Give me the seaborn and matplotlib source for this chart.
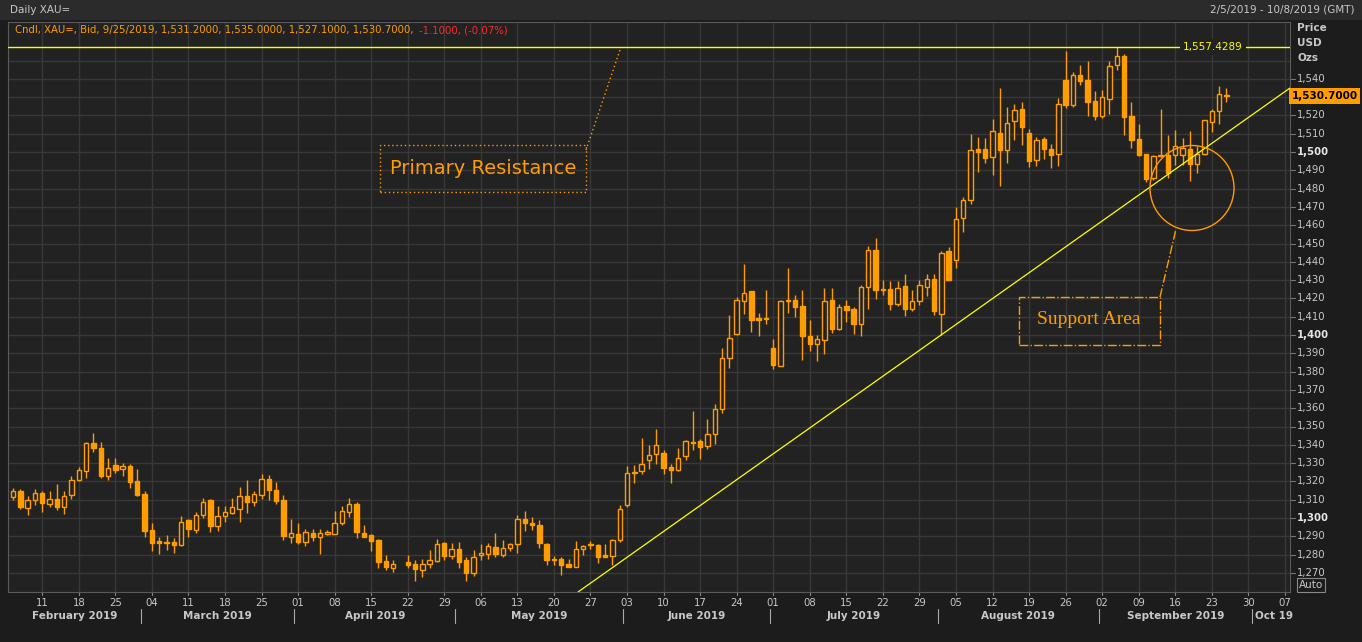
import numpy as np
import pandas as pd
import matplotlib
matplotlib.use("Agg")
import matplotlib.pyplot as plt
import matplotlib.transforms as mtransforms
from matplotlib.patches import Rectangle, Ellipse
import seaborn as sns

# ---------------- data ----------------
start_date = "2019-02-05"
end_date = "2019-09-25"
holiday_slots = ["2019-04-19"]  # no candle (Good Friday)

opens = [1311.5,1315,1305.6,1310,1313.8,1307.8,1310.5,1306,1312.7,1321,
         1325.8,1341,1338.4,1323,1328.7,1326.7,1328.5,1320,1313,1293.3,
         1287.3,1287,1286.7,1285.5,1298.7,1293.6,1301.8,1309.6,1295.5,1301.3,
         1302.9,1305,1312.2,1308.9,1312.7,1321.5,1315.5,1309.6,1289.6,1291,1287,
         1292,1289.6,1291.5,1291.5,1297,1303.3,1307.8,1292,1290.5,1287.8,1276.4,1272.7,
         np.nan,
         1276,1275,1271.8,1275,1276.5,1286.4,1279.3,1283.3,1277,1270,
         1280,1280.5,1284.2,1280,1283.8,1286,1299.6,1297.3,1296.4,1286,
         1277.6,1277.8,1274.7,1273.3,1283.3,1286,1285,1279.6,1279.3,1287.8,
         1307.3,1324.8,1325.5,1331.5,1335.2,1335.7,1327.9,1326.4,1333.7,1341,
         1341.9,1339.3,1346,1359.4,1387.6,1400.5,1418.6,1423.9,1409.5,1408.9,
         1392.7,1383.1,1418.4,1419.3,1415.7,1399.6,1395.3,1397.5,1419,1403.3,
         1415.7,1414.4,1406.2,1426.2,1446.3,1424.8,1425,1417,1426.6,1414.2,
         1418.6,1426.2,1430.8,1411.7,
         1445.7,1440.8,1464.1,1474,1501.5,1501.5,1497.3,1510.6,1501.3,1516.8,
         1523.7,1510.6,1495.4,1507.3,1501.8,1499.1,1539.2,1525.9,1541.9,1539.2,
         1527.7,1519.7,1529.1,1547.4,1552.5,1519.5,1506.9,1498.7,1486,1497.6,
         1498.5,1498.5,1498.5,1501.8,1493.6,1499.1,1516.4,1522.2,1531.2]
highs = [1316.5,1315.6,1311.8,1315.6,1315,1315,1318.4,1314.5,1322.7,1327.8,
         1341.8,1346.7,1341.8,1333,1332.7,1330,1329.6,1327,1315,1297,
         1289.6,1290.5,1289,1301,1299.6,1303.3,1311,1310.2,1306.4,1306.4,
         1310.7,1316.7,1320.5,1315,1324,1323.3,1319.5,1312.4,1299.6,1297,1294,
         1294.2,1294.2,1293.3,1303.6,1306.5,1311,1309,1296,1291.5,1288.7,1279.6,1276.9,
         np.nan,
         1279.6,1276.9,1277.8,1282.4,1288.7,1286.9,1286.4,1287,1278.7,1282.4,
         1285.6,1286.4,1291.8,1288.2,1286.4,1301.5,1303.6,1300.5,1298.7,1286.5,
         1279,1278.7,1277.8,1287.3,1285,1287.3,1286,1285.6,1288.7,1307,
         1328.2,1329,1343.9,1339.7,1348.5,1337.3,1329.7,1338.4,1342.8,1358.3,
         1343.4,1354.3,1362.1,1393,1410.7,1421,1438.6,1423.9,1412,1424.4,
         1397.6,1419.3,1436.6,1421.7,1424.4,1408,1399.8,1425.9,1425.9,1416.8,
         1419.3,1415.3,1427.1,1448.5,1453,1429.9,1429.3,1429.3,1433.5,1424.4,
         1429.9,1433.5,1433.5,1445.9,
         1448,1470,1475.4,1510,1508.2,1507.6,1517.9,1535,1524.6,1526.4,
         1527.3,1512.8,1508.2,1508.2,1504.6,1529.7,1555,1543.7,1547.4,1550,
         1533.2,1533.7,1549.7,1557.4,1553.4,1527.3,1515.5,1499.1,1498.2,1523.7,
         1509.1,1512.2,1507.8,1511.5,1503.1,1517.3,1523.3,1535.9,1535]
lows = [1309.6,1305,1301.6,1307,1303.3,1306,1304.2,1302.4,1310.2,1320,
        1321.8,1336,1321.8,1320.5,1324.5,1323,1316.4,1311.8,1289.6,1282,
        1280.5,1282.7,1281,1284.7,1289.6,1291.8,1300,1292.4,1293,1297.8,
        1302,1297.8,1302.7,1306.4,1310.5,1310,1307.8,1288,1286.4,1285.6,1284.7,
        1287.5,1280.5,1290.5,1291,1296,1300.5,1289,1289.6,1282,1272.7,1271.5,1270.5,
        np.nan,
        1272.9,1265.6,1267.8,1272.7,1276,1277.3,1277.5,1272.9,1265.6,1268.4,
        1277,1277.5,1278.7,1278.7,1281.8,1281,1293,1293.3,1283.6,1274.2,
        1274.2,1269,1273,1273,1280,1283.3,1275.6,1278.7,1274.2,1287,
        1306,1319.3,1323.9,1326.6,1329.7,1323.9,1319.3,1325.7,1331.5,1337,
        1332,1337.9,1340.3,1357.4,1382,1399.8,1411.7,1401.6,1399.3,1406.2,
        1381.6,1383.1,1412,1409.8,1386.2,1391.3,1385.8,1389.8,1401,1402.9,
        1407,1400.4,1399.3,1414,1419.5,1421.7,1413.8,1415.8,1410.2,1413,
        1416.2,1421.1,1410.7,1399.8,
        1429.9,1436.6,1456.3,1471.8,1489,1494.2,1487.6,1481.2,1494.2,1506.4,
        1504,1491.8,1492.2,1496,1491.4,1492.3,1524,1524.6,1536.4,1519.5,
        1517.3,1518.8,1521,1544.6,1509.1,1502.2,1497.6,1483.6,1484.5,1497.3,
        1486,1492.7,1492.7,1484.2,1488.5,1498.5,1510.9,1515.5,1527.1]
closes = [1314.7,1306,1310,1313.8,1308.2,1310.5,1306,1312,1321,1326,
          1341,1338,1323,1327.5,1326.5,1328.5,1319.6,1312.5,1293,1286.4,
          1286.4,1286.4,1285.3,1298,1294,1301.8,1309,1295.6,1301,1303.5,
          1306.2,1312.2,1308.7,1313.3,1321.5,1315.5,1309.3,1290,1292,1287,1292.5,
          1289.6,1292,1292.4,1297,1304,1307.8,1292.4,1289.6,1287.5,1276,1273,1275,
          np.nan,
          1274.5,1272,1275,1276.9,1286,1279,1283.3,1276,1270,1278.7,
          1281,1284.5,1280.5,1283.8,1285.6,1299.6,1297,1296.4,1286.4,1277.3,
          1277.3,1274.2,1273.3,1283,1284.5,1285,1278.7,1278.7,1288,1305,
          1324.8,1324.8,1329.7,1334.6,1340,1327.3,1326.4,1332.8,1341.9,1341.3,
          1338.8,1346,1359.7,1387.6,1398.5,1419.3,1423,1408,1408.4,1408.9,
          1383.4,1418.4,1419.3,1415.3,1399.3,1395.3,1398,1418.6,1403.3,1415.3,
          1413.8,1406.2,1426.2,1446.3,1424.4,1424.8,1417,1425.9,1414,1418.4,
          1427.1,1430.8,1413,1444.8,
          1430.2,1463.6,1474,1501,1500,1496.9,1511.3,1501.3,1516,1523.1,
          1513.7,1495.1,1506.7,1501.8,1498.2,1526.4,1525.9,1542.3,1538.8,1527.3,
          1519.7,1530,1546.8,1552.5,1519.1,1506.7,1498.5,1485.4,1497.6,1498.5,
          1488.7,1503.1,1502.2,1493.6,1499.1,1517.3,1522.2,1531.9,1530.7]

resistance = 1557.4289
last_price = 1530.7
month_names = ["February 2019", "March 2019", "April 2019", "May 2019", "June 2019",
               "July 2019", "August 2019", "September 2019", "Oct 19"]

dates = pd.bdate_range(start_date, end_date)
df = pd.DataFrame({"date": dates, "open": opens, "high": highs, "low": lows, "close": closes})
df["slot"] = np.arange(len(df))

# ---------------- style ----------------
BG = "#1c1c1c"
PLOT_BG = "#222222"
GRID = "#383838"
ORANGE = "#ff9c00"
TXT = "#c8c8c8"
sns.set_style("dark", {"axes.facecolor": PLOT_BG, "figure.facecolor": BG,
                       "grid.color": GRID, "axes.edgecolor": "#5a5a5a"})
plt.rcParams["font.family"] = ["DejaVu Sans"]

W, H = 1362, 642
fig = plt.figure(figsize=(W / 100, H / 100), dpi=100)
L, R, T, B = 8, 1290, 22, 592
ax = fig.add_axes([L / W, 1 - B / H, (R - L) / W, (B - T) / H])

def xd(px):  # pixel -> slot
    return (px - 13) / 7.31
def yd(py):  # pixel -> price
    return 1300 + (518 - py) / 1.83

ax.set_xlim(xd(L), xd(R))
ax.set_ylim(yd(B), yd(T))

# grid
for p in range(1270, 1551, 10):
    ax.axhline(p, color=GRID, lw=1, zorder=0)
mondays = pd.date_range("2019-02-11", "2019-10-07", freq="W-MON")
mon_slots = [np.busday_count(start_date, d.strftime("%Y-%m-%d")) for d in mondays]
for s in mon_slots:
    ax.axvline(s, color=GRID, lw=1, zorder=0)

# candles
ok = df.dropna()
up = ok[ok.close >= ok.open]
dn = ok[ok.close < ok.open]
ax.vlines(ok.slot, ok.low, ok.high, color=ORANGE, lw=1, zorder=2)
bw = 0.6
ax.bar(up.slot, np.maximum(up.close - up.open, 0.4), bottom=up.open, width=bw,
       facecolor=PLOT_BG, edgecolor=ORANGE, lw=1, zorder=3)
ax.bar(dn.slot, np.maximum(dn.open - dn.close, 0.4), bottom=dn.close, width=bw,
       facecolor=ORANGE, edgecolor=ORANGE, lw=1, zorder=3)

# resistance + trend line
ax.axhline(resistance, color="#ffff00", lw=1, zorder=4)
ax.text(xd(1213), resistance, "1,557.4289", color="#ffff00", fontsize=7.5,
        ha="center", va="center", zorder=5,
        bbox=dict(facecolor=PLOT_BG, edgecolor="none", pad=2))
ax.plot([xd(578), xd(1290)], [yd(592), yd(88)], color="#ffff00", lw=0.9, zorder=4)

# annotations
ax.add_patch(Rectangle((xd(380), yd(192)), xd(586) - xd(380), yd(145) - yd(192),
                       fill=False, ec=ORANGE, lw=1, ls=(0, (1, 2)), zorder=5))
ax.text(xd(483), yd(168), "Primary Resistance", color=ORANGE, fontsize=14,
        ha="center", va="center", zorder=5)
ax.plot([xd(586), xd(621)], [yd(150), yd(47)], color=ORANGE, lw=1, ls=(0, (1, 2)))
ax.add_patch(Rectangle((xd(1019), yd(345)), xd(1160) - xd(1019), yd(297) - yd(345),
                       fill=False, ec=ORANGE, lw=1, ls="-.", zorder=5))
ax.text(xd(1089), yd(320), "Support Area", color=ORANGE, fontsize=14,
        family=["Liberation Serif", "DejaVu Serif"], ha="center", va="center", zorder=5)
ax.plot([xd(1160), xd(1176)], [yd(297), yd(229)], color=ORANGE, lw=1, ls="-.")
ax.add_patch(Ellipse((xd(1192), yd(188)), 84 / 7.31, 85 / 1.83, fill=False,
                     ec=ORANGE, lw=1, zorder=5))

ax.text(xd(15), yd(30), "Cndl, XAU=, Bid, 9/25/2019, 1,531.2000, 1,535.0000, 1,527.1000, 1,530.7000,",
        color=ORANGE, fontsize=7.3, va="center", ha="left")
ax.text(xd(419), yd(30), "-1.1000, (-0.07%)", color="#ff2a2a", fontsize=7.3, va="center", ha="left")

# axes cosmetics
ax.set_xticks([]); ax.set_yticks([])
ax.grid(False)
for sp in ax.spines.values():
    sp.set_color("#5a5a5a")

# right price labels
ry = mtransforms.blended_transform_factory(ax.transAxes, ax.transData)
for p in range(1270, 1541, 10):
    bold = p % 100 == 0
    ax.plot([1.0, 1.004], [p, p], transform=ry, color="#777777", lw=0.8, clip_on=False)
    if p == 1530:
        continue
    ax.text(1.0055, p, f"{p:,}", transform=ry, color="#e6e6e6" if bold else TXT,
            fontsize=7.3, fontweight="bold" if bold else "normal", va="center", ha="left",
            clip_on=False)
for txt, py in [("Price", 28), ("USD", 43), ("Ozs", 58)]:
    fig.text(1297 / W, 1 - py / H, txt, color=TXT, fontsize=7.5, fontweight="bold", va="center")
ax.text(1.0012, last_price, "1,530.7000", transform=ry, color="black", fontsize=7.5,
        fontweight="bold", va="center", ha="left", clip_on=False,
        bbox=dict(facecolor=ORANGE, edgecolor="none", pad=2))
fig.text(1299 / W, 1 - 585 / H, "Auto", color=TXT, fontsize=7.5, va="center",
         bbox=dict(facecolor=BG, edgecolor="#888888", pad=1.2, lw=0.8))

# bottom day labels
bx = mtransforms.blended_transform_factory(ax.transData, ax.transAxes)
yday = -(603 - B) / (B - T)
ymon = -(616 - B) / (B - T)
for d, s in zip(mondays, mon_slots):
    ax.text(s, yday, d.strftime("%d"), transform=bx, color=TXT, fontsize=7.3,
            ha="center", va="center", clip_on=False)
    ax.plot([s, s], [0, -0.006], transform=bx, color="#888888", lw=0.8, clip_on=False)

# month labels + separators
month_starts = pd.date_range("2019-03-01", "2019-10-01", freq="MS")
sep_slots = [np.busday_count(start_date, d.strftime("%Y-%m-%d")) - 0.5 for d in month_starts]
edges = [xd(L)] + sep_slots + [xd(R)]
for i, name in enumerate(month_names):
    c = (edges[i] + edges[i + 1]) / 2
    if name == "Oct 19":
        c = edges[i] + 3
    ax.text(c, ymon, name, transform=bx, color=TXT, fontsize=7.5, fontweight="bold",
            ha="center", va="center", clip_on=False)
for s in sep_slots:
    ax.plot([s, s], [ymon - 0.012, ymon + 0.012], transform=bx, color="#aaaaaa", lw=0.8,
            clip_on=False)

# header
fig.patches.append(Rectangle((0, 1 - 20 / H), 1, 20 / H, transform=fig.transFigure,
                             facecolor="#2b2b2b", edgecolor="none", zorder=-1))
fig.text(10 / W, 1 - 10 / H, "Daily XAU=", color=TXT, fontsize=7.5, va="center")
fig.text(1354 / W, 1 - 10 / H, "2/5/2019 - 10/8/2019 (GMT)", color=TXT, fontsize=7.5,
         va="center", ha="right")

fig.savefig("out.png", dpi=100, facecolor=BG)
